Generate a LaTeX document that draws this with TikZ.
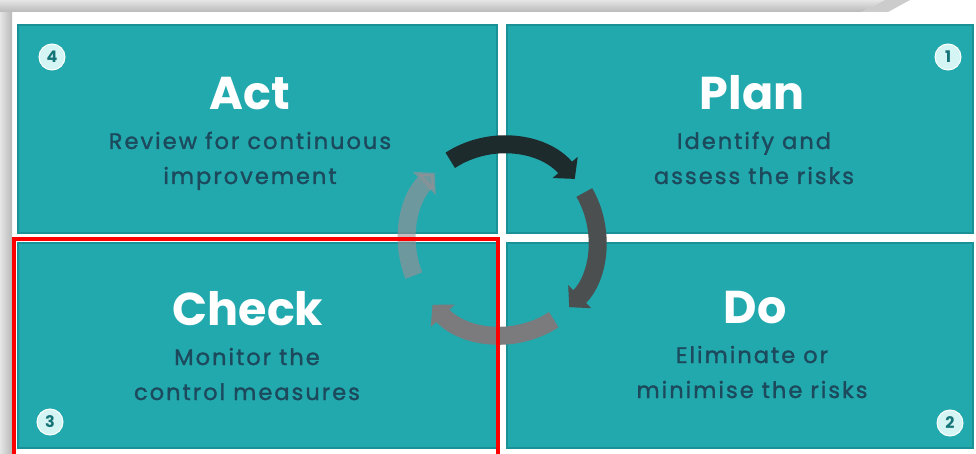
\documentclass[tikz,border=0pt]{standalone}
\usepackage{fontspec}
\setmainfont{Poppins}
\newfontfamily\subfont{Poppins}[LetterSpace=9, FakeBold=1.4]
\usetikzlibrary{arrows.meta,positioning,calc}
\definecolor{tealbg}{HTML}{22A9AE}
\definecolor{tealedge}{HTML}{1A9196}
\definecolor{subtxt}{HTML}{1C4A5C}
\definecolor{badge}{HTML}{D4F5F3}
\definecolor{arcA}{HTML}{1E2B2C}
\definecolor{arcB}{HTML}{4B4F50}
\definecolor{arcC}{HTML}{7B7A7C}
\definecolor{arcD}{HTML}{A08E93}
\tikzset{
  tile/.style={draw=tealedge, fill=tealbg, line width=1.5pt, rectangle, inner sep=0pt},
  ttl/.style={anchor=base, text=white, font=\fontsize{46}{50}\selectfont\bfseries, inner sep=0pt},
  sub/.style={anchor=base, text=subtxt, align=center, font=\fontsize{22.5}{35}\selectfont\subfont, inner sep=0pt},
  num/.style={circle, fill=badge, draw=white, line width=1pt, minimum size=26pt, inner sep=0pt, text=tealedge!80!black, font=\fontsize{16}{16}\selectfont\bfseries},
  cyc/.style={line width=18pt, -{Triangle[length=15pt, width=32pt]}},
}

\begin{document}
\begin{tikzpicture}[x=1pt, y=-1pt]
\useasboundingbox (0,0) rectangle (976,454);
\fill[white] (0,0) rectangle (976,454);
\shade[left color=gray!20, right color=gray!55] (0,0) rectangle (12,454);
\shade[top color=gray!20, bottom color=gray!55] (0,0) -- (885,0) -- (862,12) -- (0,12) -- cycle;
\fill[gray!40] (885,0) -- (910,0) -- (888,12) -- (862,12) -- cycle;

\node[tile, minimum width=479pt, minimum height=208pt] (act) at (257.5,129) {};
\node[tile, minimum width=466pt, minimum height=208pt] (plan) at (740,129) {};
\node[tile, minimum width=479pt, minimum height=205pt] (check) at (257.5,345.5) {};
\node[tile, minimum width=466pt, minimum height=205pt] (do) at (740,345.5) {};

\node[ttl] (actttl) at (250,110) {Act};
\node[sub] (actsub) at (250,184) {Review for continuous\\improvement};
\node[ttl] (planttl) at (752,110) {Plan};
\node[sub] (plansub) at (754,184) {Identify and\\assess the risks};
\node[ttl] (checkttl) at (248,325) {Check};
\node[sub] (checksub) at (247,400) {Monitor the\\control measures};
\node[ttl] (dottl) at (755,323) {Do};
\node[sub] (dosub) at (752,398) {Eliminate or\\minimise the risks};

\node[num] (n4) at (52,57) {4};
\node[num] (n1) at (948,57) {1};
\node[num] (n3) at (50,422) {3};
\node[num] (n2) at (950,423) {2};

\coordinate (hub) at (502,240);
\draw[cyc, arcD, opacity=0.6] ($(hub)+(-158:95pt)$) arc[start angle=-158, end angle=-225, radius=95pt];
\draw[cyc, arcC] ($(hub)+(-57:95pt)$) arc[start angle=-57, end angle=-137, radius=95pt];
\draw[cyc, arcB] ($(hub)+(30:95pt)$) arc[start angle=30, end angle=-45, radius=95pt];
\draw[cyc, arcA] ($(hub)+(123:95pt)$) arc[start angle=123, end angle=40, radius=95pt];

\draw[red, line width=4pt] (14,239) rectangle (498,462);
\end{tikzpicture}
\end{document}
